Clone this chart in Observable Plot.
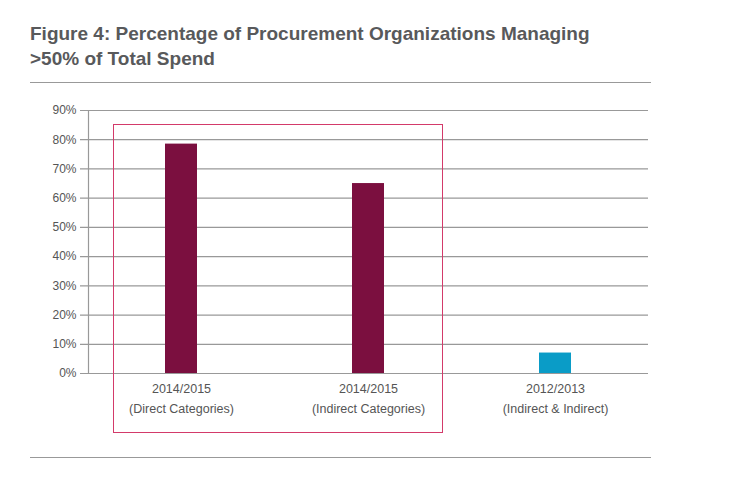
<!DOCTYPE html>
<html><head>
<script src="https://cdn.jsdelivr.net/npm/d3@7"></script>
<script src="https://cdn.jsdelivr.net/npm/@observablehq/plot@0.6"></script>
<style>
body{margin:0;background:#fff;font-family:"Liberation Sans",Arial,sans-serif;}
#wrap{position:relative;width:755px;height:477px;}
#title{position:absolute;left:30px;top:21px;font:bold 19px "Liberation Sans",Arial,sans-serif;color:#58595b;line-height:25px;}
.rule{position:absolute;left:30px;width:621px;height:1px;background:#999;}
#box{position:absolute;left:113px;top:124px;width:328px;height:307px;border:1.5px solid #d33a6a;}
#chart{position:absolute;left:0;top:0;}
</style></head><body>
<div id="wrap">
<div id="title">Figure 4: Percentage of Procurement Organizations Managing<br>&gt;50% of Total Spend</div>
<div class="rule" style="top:82px"></div>
<div class="rule" style="top:457px"></div>
<div id="chart"></div>
<div id="box"></div>
</div>
<script>
const categories = ["2014/2015\n(Direct Categories)", "2014/2015\n(Indirect Categories)", "2012/2013\n(Indirect & Indirect)"];
const values = [78.5, 65, 7];
const colors = ["#7b0f3f", "#7b0f3f", "#0a9cc7"];
const yTicks = [0,10,20,30,40,50,60,70,80,90];
const data = categories.map((c,i)=>({c, v: values[i], col: colors[i]}));
const plot = Plot.plot({
  width:755, height:477,
  marginTop:110, marginBottom:104, marginLeft:87, marginRight:107,
  style:{fontFamily:"Liberation Sans, Arial, sans-serif", fontSize:"12px", color:"#555", background:"transparent"},
  x:{domain:categories, paddingInner:0.83, paddingOuter:0.415, axis:null},
  y:{domain:[0,90], axis:null},
  marks:[
    Plot.ruleY(yTicks, {stroke:"#999", strokeWidth:1.2, insetLeft:-7}),
    Plot.text(yTicks, {y:d=>d, text:d=>d+"%", frameAnchor:"left", dx:-11, textAnchor:"end", fill:"#555"}),
    Plot.ruleX([0], {x:()=>categories[0], dx:-93, stroke:"#999", strokeWidth:1.2, y1:0, y2:90}),
    Plot.barY(data, {x:"c", y:"v", fill:"col"}),
    Plot.text(data, {x:"c", y:0, text:"c", lineAnchor:"top", dy:6, lineHeight:1.55, fill:"#555", fontSize:12.5})
  ]
});
document.getElementById("chart").appendChild(plot);
</script>
</body></html>
